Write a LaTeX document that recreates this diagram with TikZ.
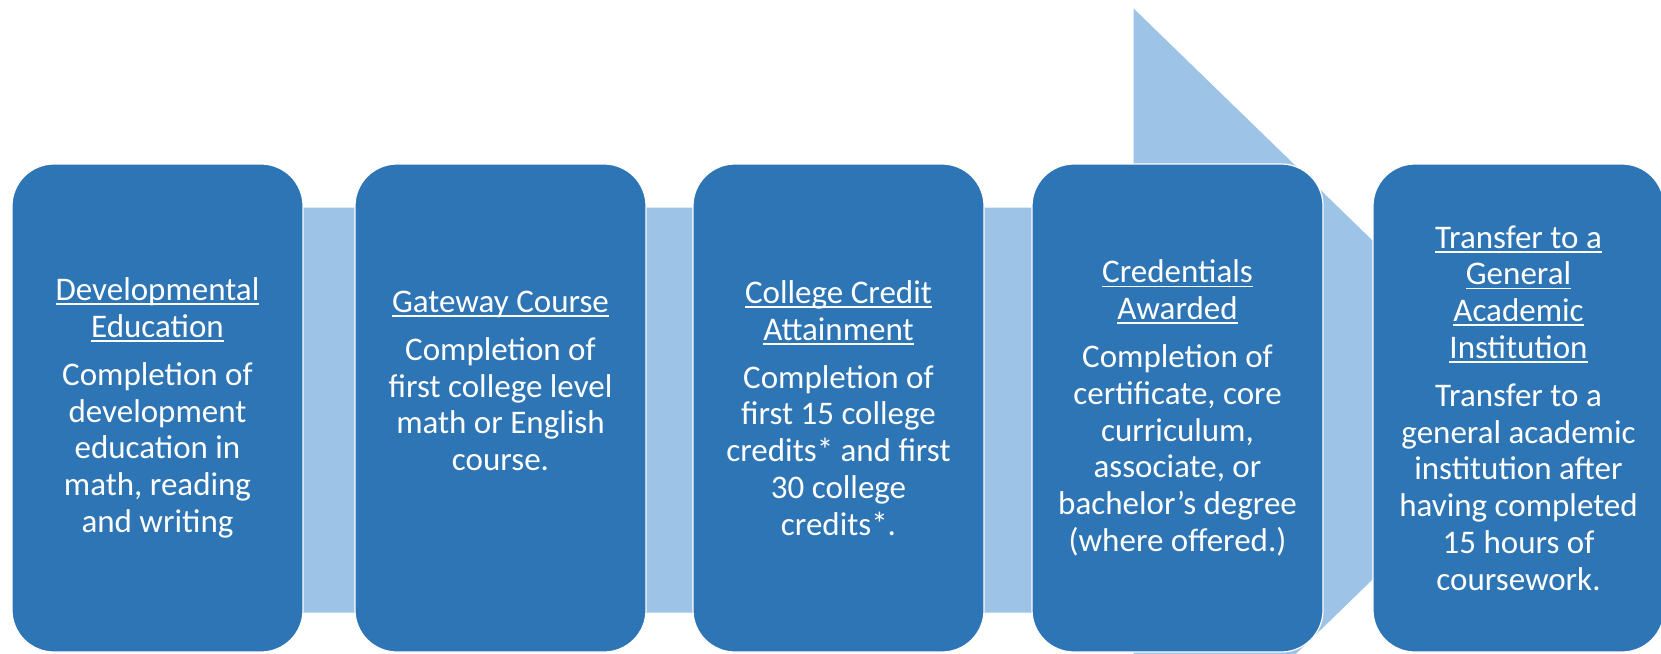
\documentclass[tikz,border=0pt]{standalone}
\usepackage{fontspec}
\setmainfont{Carlito}
\newcommand\hdl[1]{\setbox0\hbox{#1}\rlap{\rule[-4.5pt]{\wd0}{1.8pt}}\box0}
\definecolor{darkblue}{HTML}{2E75B6}
\definecolor{lightblue}{HTML}{9DC3E6}
\tikzset{
  stagebox/.style={rectangle, rounded corners=42pt, minimum width=291pt, minimum height=488pt, fill=darkblue, draw=white, line width=1.2pt, inner sep=0pt},
  stagetext/.style={text=white, align=center, inner sep=0pt, font=\fontsize{33}{36.8}\selectfont},
  bgarrow/.style={fill=lightblue, draw=white, line width=1pt}
}
\begin{document}
\begin{tikzpicture}[x=1pt,y=-1pt]
\useasboundingbox (0,0) rectangle (1661,653);
\begin{scope}
\clip (0,0) rectangle (1661,653);
\fill[white] (0,0) rectangle (1661,653);
\draw[bgarrow] (60,207) -- (1133,207) -- (1133,7) -- (1548,410) -- (1133,813) -- (1133,613) -- (60,613) -- cycle;
\end{scope}
\node[stagebox] (b1) at (157.5,408) {};
\node[stagebox] (b2) at (500.5,408) {};
\node[stagebox] (b3) at (838.5,408) {};
\node[stagebox] (b4) at (1177.5,408) {};
\node[stagebox] (b5) at (1518.5,408) {};
\node[stagetext] (t1) at (b1.center) {\hdl{Developmental}\\\hdl{Education}\\[11pt]Completion of\\development\\education in\\math, reading\\and writing};
\node[stagetext] (t2) at ([yshift=27pt]b2.center) {\hdl{Gateway Course}\\[11pt]Completion of\\first college level\\math or English\\course.};
\node[stagetext] (t3) at (b3.center) {\hdl{College Credit}\\\hdl{Attainment}\\[11pt]Completion of\\first 15 college\\credits* and first\\30 college\\credits*.};
\node[stagetext] (t4) at (b4.center) {\hdl{Credentials}\\\hdl{Awarded}\\[11pt]Completion of\\certificate, core\\curriculum,\\associate, or\\bachelor’s degree\\(where offered.)};
\node[stagetext] (t5) at (b5.center) {\hdl{Transfer to a}\\\hdl{General}\\\hdl{Academic}\\\hdl{Institution}\\[11pt]Transfer to a\\general academic\\institution after\\having completed\\15 hours of\\coursework.};
\end{tikzpicture}
\end{document}
